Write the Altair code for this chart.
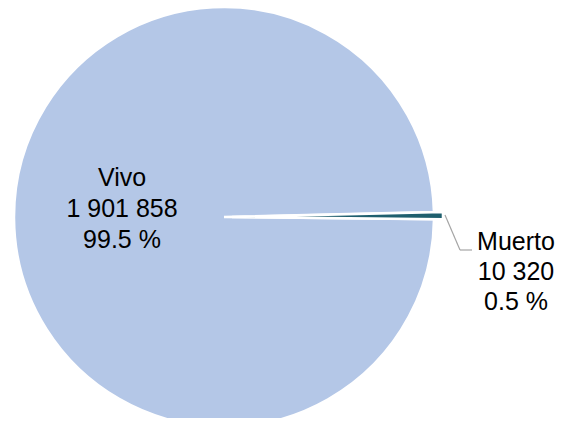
import altair as alt
import pandas as pd
import math

categories = ["Vivo", "Muerto"]
values = [1901858, 10320]
colors = ["#B4C7E7", "#1F5F6E"]

total = sum(values)
start_deg = 90.6
rows = []
cum = 0.0
for c, v, col in zip(categories, values, colors):
    a0 = math.radians(start_deg) + cum / total * 2 * math.pi
    cum += v
    a1 = math.radians(start_deg) + cum / total * 2 * math.pi
    num = f"{v:,}".replace(",", " ")
    pct = f"{v / total * 100:.1f} %"
    rows.append({"cat": c, "value": v, "a0": a0, "a1": a1, "mid": (a0 + a1) / 2,
                 "label": f"{c}\n{num}\n{pct}", "color": col})
df = pd.DataFrame(rows)

CX, CY, R = 216, 209, 210

base = alt.Chart(df)
color = alt.Color("cat:N", scale=alt.Scale(domain=categories, range=colors), legend=None)

vivo = base.transform_filter(alt.datum.cat == "Vivo").mark_arc(
    stroke="white", strokeWidth=2.5
).encode(
    theta=alt.Theta("a0:Q", scale=None),
    theta2="a1:Q",
    color=color,
    x=alt.value(CX), y=alt.value(CY), radius=alt.value(R),
)

muerto = base.transform_filter(alt.datum.cat == "Muerto").mark_arc(
    stroke="white", strokeWidth=2.5
).encode(
    theta=alt.Theta("a0:Q", scale=None),
    theta2="a1:Q",
    color=color,
    x=alt.value(CX + 8), y=alt.value(CY), radius=alt.value(R + 1),
)

vivo_lbl = base.transform_filter(alt.datum.cat == "Vivo").mark_text(
    font="Liberation Sans", fontSize=25, lineBreak="\n", lineHeight=31,
    baseline="middle", align="center", color="black", dy=-40
).encode(
    theta=alt.Theta("mid:Q", scale=None),
    x=alt.value(CX), y=alt.value(CY), radius=alt.value(102),
    text="label:N",
)

muerto_lbl = base.transform_filter(alt.datum.cat == "Muerto").mark_text(
    font="Liberation Sans", fontSize=25, lineBreak="\n", lineHeight=30,
    baseline="middle", align="center", color="black", dy=26, dx=75
).encode(
    theta=alt.Theta("mid:Q", scale=None),
    x=alt.value(CX), y=alt.value(CY), radius=alt.value(217),
    text="label:N",
)

lead1 = base.transform_filter(alt.datum.cat == "Muerto").mark_rule(
    color="#A6A6A6", strokeWidth=1.2
).encode(x=alt.value(437), y=alt.value(207), x2=alt.value(452), y2=alt.value(242))
lead2 = base.transform_filter(alt.datum.cat == "Muerto").mark_rule(
    color="#A6A6A6", strokeWidth=1.2
).encode(x=alt.value(452), y=alt.value(242), x2=alt.value(464), y2=alt.value(242))

chart = alt.layer(vivo, muerto, lead1, lead2, vivo_lbl, muerto_lbl).properties(
    width=547, height=410, autosize=alt.AutoSizeParams(type="none"), padding=0
).configure_view(stroke=None)

chart.save("out.html", embed_options={"renderer": "svg", "actions": False})
